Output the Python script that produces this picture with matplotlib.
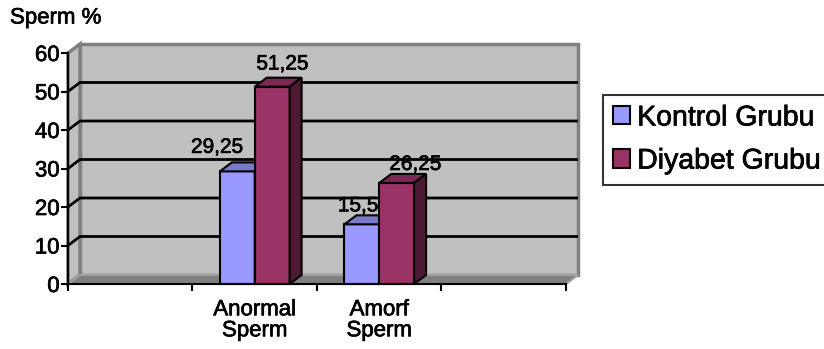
import matplotlib.pyplot as plt
from matplotlib.patches import Polygon, Patch
import matplotlib.patheffects as pe
import numpy as np

plt.rcParams['font.family'] = ['Liberation Sans', 'DejaVu Sans']

categories = ['', 'Anormal\nSperm', 'Amorf\nSperm', '']
series_names = ['Kontrol Grubu', 'Diyabet Grubu']
kontrol = [None, 29.25, 15.5, None]
diyabet = [None, 51.25, 26.25, None]
value_labels = [[None, '29,25', '15,5', None], [None, '51,25', '26,25', None]]
colors = ['#9999FF', '#993366']

# label nudges in points (x, y), Excel shifts some labels to avoid overlap
label_shift = [[None, (-19, 4), (-7, 0), None], [None, (3, 3), (9, 0), None]]

# slightly heavier text strokes
heavy = [pe.withStroke(linewidth=0.5, foreground='black')]

W, H = 824, 349
fig = plt.figure(figsize=(W / 100, H / 100), dpi=100)
ax = fig.add_axes([68 / W, (H - 284) / H, (566 - 68) / W, (284 - 53) / H])
ax.set_xlim(0, len(categories))
ax.set_ylim(0, 60)

# depth of the pseudo-3d box, in data units (12 px right, 9 px up)
dx = 12 / ((566 - 68) / len(categories))
dy = 9 / ((284 - 53) / 60)
xmax = len(categories)


def shade(c, f):
    r, g, b = plt.matplotlib.colors.to_rgb(c)
    return (r * f, g * f, b * f)


def poly(pts, fc, ec, lw=1.5, z=1):
    ax.add_patch(Polygon(pts, closed=True, facecolor=fc, edgecolor=ec,
                         linewidth=lw, zorder=z, clip_on=False))


# walls and floor
poly([(dx, dy), (xmax + dx, dy), (xmax + dx, 60 + dy), (dx, 60 + dy)], '#C0C0C0', '#808080', 2.5, 0.5)
poly([(0, 0), (dx, dy), (dx, 60 + dy), (0, 60)], '#C0C0C0', '#808080', 2.5, 0.6)
poly([(0, 0), (xmax, 0), (xmax + dx, dy), (dx, dy)], '#808080', '#A0A0A0', 1.5, 0.7)

# gridlines on the back and side walls
for v in range(10, 60, 10):
    ax.plot([0, dx, xmax + dx], [v, v + dy, v + dy], color='black', lw=2,
            zorder=0.8, clip_on=False, solid_capstyle='butt')

bar_w = 0.28
centers = np.arange(len(categories)) + 0.5
for i, vals in enumerate([kontrol, diyabet]):
    for j, h in enumerate(vals):
        if h is None:
            continue
        x0 = centers[j] - bar_w + i * bar_w
        x1 = x0 + bar_w
        z = 2 + j * 2 + i
        poly([(x0, 0), (x1, 0), (x1, h), (x0, h)], colors[i], 'black', 1.5, z)
        poly([(x0, h), (x1, h), (x1 + dx, h + dy), (x0 + dx, h + dy)], shade(colors[i], 0.8), 'black', 1.5, z)
        poly([(x1, 0), (x1 + dx, dy), (x1 + dx, h + dy), (x1, h)], shade(colors[i], 0.5), 'black', 1.5, z)
        ax.annotate(value_labels[i][j], ((x0 + x1 + dx) / 2, h + dy),
                    xytext=label_shift[i][j], textcoords='offset points',
                    ha='center', va='bottom', fontsize=15, zorder=20,
                    path_effects=heavy)

for s in ['top', 'right']:
    ax.spines[s].set_visible(False)
for s in ['left', 'bottom']:
    ax.spines[s].set_linewidth(1.5)
    ax.spines[s].set_zorder(10)
ax.patch.set_visible(False)

ax.set_yticks(range(0, 61, 10))
ax.tick_params(axis='y', direction='out', length=5, width=1.5, pad=1, labelsize=16)
ax.set_xticks(range(0, len(categories) + 1))
ax.set_xticklabels([])
ax.set_xticks(centers, minor=True)
ax.set_xticklabels(categories, minor=True, fontsize=16, linespacing=1.0)
ax.tick_params(axis='x', which='major', direction='out', length=5, width=1.5)
ax.tick_params(axis='x', which='minor', length=0, pad=11)
for t in ax.get_yticklabels() + ax.get_xticklabels(minor=True):
    t.set_path_effects(heavy)

fig.text(10 / W, 1 - 18 / H, 'Sperm %', fontsize=16, va='center', ha='left',
         path_effects=heavy)

handles = [Patch(facecolor=c, edgecolor='black', linewidth=1.5) for c in colors]
leg = fig.legend(handles, series_names, loc='center left',
                 bbox_to_anchor=(603 / W, 1 - 140 / H), fontsize=20.5,
                 frameon=True, fancybox=False, handlelength=0.6, handleheight=0.6,
                 handletextpad=0.25, borderpad=0.35, labelspacing=0.6, borderaxespad=0)
leg.get_frame().set_edgecolor('black')
leg.get_frame().set_linewidth(1.5)
for t in leg.get_texts():
    t.set_path_effects(heavy)

fig.savefig('out.png', dpi=100)
